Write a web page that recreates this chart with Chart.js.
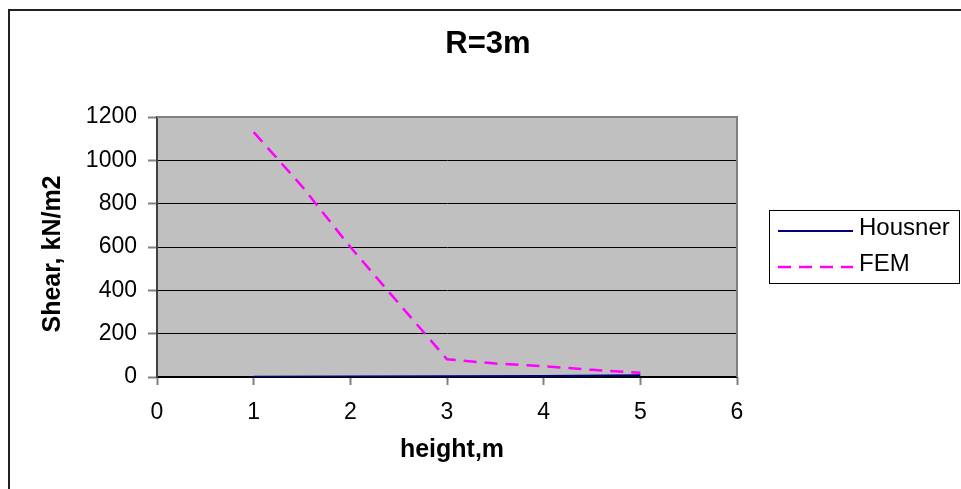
<!DOCTYPE html>
<html>
<head>
<meta charset="utf-8">
<script src="https://cdn.jsdelivr.net/npm/chart.js"></script>
<style>
  body { margin: 0; background: #fff; }
  canvas { display: block; }
</style>
</head>
<body>
<canvas id="chart" width="961" height="489"></canvas>
<script>
// data
const housnerHeights = [1, 2, 3, 4, 5];
const housnerShear = [1, 2, 3, 5, 8];
const femHeights = [1, 1.5, 2, 2.5, 3, 3.5, 4, 4.5, 5];
const femShear = [1130, 880, 600, 340, 82, 62, 50, 33, 20];
const xTicks = [0, 1, 2, 3, 4, 5, 6];
const yTicks = [0, 200, 400, 600, 800, 1000, 1200];

const FONT = '"Liberation Sans", Arial, sans-serif';

function toPoints(xs, ys) {
  return xs.map((x, i) => ({ x: x, y: ys[i] }));
}

// grey plot area, frame, titles and legend (Excel look)
const excelLook = {
  id: 'excelLook',
  beforeDraw(chart) {
    const c = chart.ctx, a = chart.chartArea;
    c.save();
    c.fillStyle = '#C0C0C0';
    c.fillRect(a.left, a.top, a.right - a.left, a.bottom - a.top);
    c.restore();
  },
  afterDraw(chart) {
    const c = chart.ctx, a = chart.chartArea;
    c.save();
    // plot border top / right
    c.strokeStyle = '#808080';
    c.lineWidth = 2;
    c.beginPath();
    c.moveTo(a.left, a.top);
    c.lineTo(a.right, a.top);
    c.lineTo(a.right, a.bottom);
    c.stroke();

    // outer chart frame (only top / left visible)
    c.strokeStyle = '#222';
    c.lineWidth = 2;
    c.beginPath();
    c.moveTo(9, 489);
    c.lineTo(9, 10);
    c.lineTo(961, 10);
    c.stroke();

    // titles
    c.fillStyle = '#000';
    c.textAlign = 'center';
    c.textBaseline = 'middle';
    c.font = 'bold 31px ' + FONT;
    c.fillText('R=3m', 488, 44);
    c.font = 'bold 25px ' + FONT;
    c.fillText('height,m', 452, 450);
    c.save();
    c.translate(53, 254);
    c.rotate(-Math.PI / 2);
    c.fillText('Shear, kN/m2', 0, 0);
    c.restore();

    // legend
    c.strokeStyle = '#000';
    c.lineWidth = 1;
    c.strokeRect(769.5, 210.5, 190, 73);
    c.font = '24px ' + FONT;
    c.textAlign = 'left';
    chart.data.datasets.forEach((ds, i) => {
      const y = 231 + i * 36;
      c.strokeStyle = ds.borderColor;
      c.lineWidth = ds.borderWidth;
      c.setLineDash(ds.borderDash || []);
      c.beginPath();
      c.moveTo(778, y);
      c.lineTo(853, y);
      c.stroke();
      c.setLineDash([]);
      c.fillStyle = '#000';
      c.fillText(ds.label, 859, y - 3);
    });
    c.restore();
  }
};

new Chart(document.getElementById('chart'), {
  type: 'line',
  data: {
    datasets: [{
      label: 'Housner',
      data: toPoints(housnerHeights, housnerShear),
      borderColor: '#000080',
      borderWidth: 2,
      pointRadius: 0,
      tension: 0
    }, {
      label: 'FEM',
      data: toPoints(femHeights, femShear),
      borderColor: '#FF00FF',
      borderWidth: 2.5,
      borderDash: [13, 8],
      pointRadius: 0,
      tension: 0
    }]
  },
  plugins: [excelLook],
  options: {
    responsive: false,
    animation: false,
    layout: { padding: { left: 0, top: 117, right: 224, bottom: 0 } },
    plugins: {
      legend: { display: false },
      title: { display: false },
      tooltip: { enabled: false }
    },
    scales: {
      x: {
        type: 'linear',
        min: xTicks[0],
        max: xTicks[xTicks.length - 1],
        afterBuildTicks: s => { s.ticks = xTicks.map(v => ({ value: v })); },
        afterFit: s => { s.height = 112; },
        ticks: {
          color: '#000', font: { family: FONT, size: 23 }, padding: 14, maxRotation: 0,
          callback: v => String(v)
        },
        grid: { drawOnChartArea: false, drawTicks: true, tickLength: 8, tickColor: '#808080', tickWidth: 2 },
        border: { color: '#000', width: 1.5 }
      },
      y: {
        min: yTicks[0],
        max: yTicks[yTicks.length - 1],
        afterBuildTicks: s => { s.ticks = yTicks.map(v => ({ value: v })); },
        afterFit: s => { s.width = 157; },
        ticks: {
          color: '#000', font: { family: FONT, size: 23 }, padding: 11,
          callback: v => String(v)
        },
        grid: {
          color: ctx => (ctx.tick && ctx.tick.value === 1200 ? '#808080' : '#000'),
          lineWidth: 1,
          tickLength: 9,
          tickColor: '#808080',
          tickWidth: 2
        },
        border: { color: '#404040', width: 2 }
      }
    }
  }
});
</script>
</body>
</html>
